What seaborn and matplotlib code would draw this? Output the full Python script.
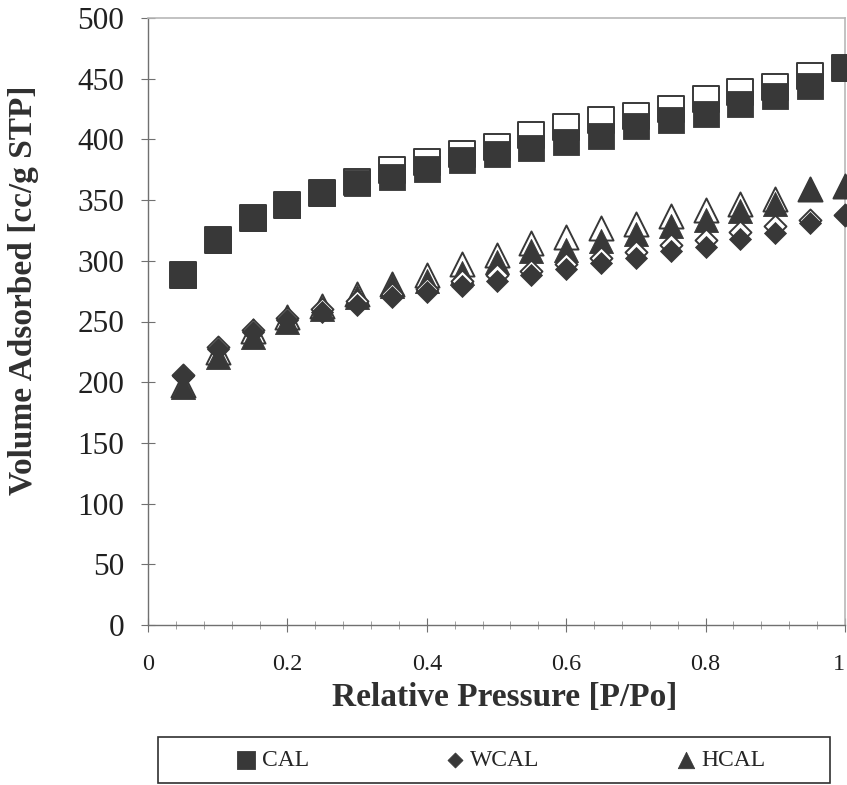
import matplotlib
matplotlib.use("Agg")
import matplotlib.pyplot as plt
import seaborn as sns
import pandas as pd
from matplotlib.ticker import MultipleLocator, FuncFormatter
from matplotlib.patches import Rectangle

# ---- data ----
rel_pressure = [0.05, 0.10, 0.15, 0.20, 0.25, 0.30, 0.35, 0.40, 0.45, 0.50,
                0.55, 0.60, 0.65, 0.70, 0.75, 0.80, 0.85, 0.90, 0.95, 1.00]
cal_ads = [288, 317, 335, 346, 356, 364, 369, 376, 383, 388,
           393, 398, 403, 411, 416, 421, 429, 436, 444, 459]
cal_des = [288, 317, 335, 346, 356, 365, 375, 381, 388, 394,
           404, 410, 416, 419, 425, 433, 439, 443, 452, 459]
wcal_ads = [205, 227, 241, 251, 258, 264, 270, 274, 279, 283,
            288, 293, 298, 302, 308, 311, 318, 323, 331, 338]
wcal_des = [206, 229, 243, 253, 260, 267, 273, 277, 283, 288,
            292, 297, 302, 307, 313, 317, 324, 329, 334, 338]
hcal_ads = [196, 221, 237, 250, 260, 270, 279, 283, 290, 299,
            308, 309, 316, 322, 329, 334, 341, 347, 359, 362]
hcal_des = [198, 225, 242, 254, 263, 273, 281, 288, 297, 305,
            315, 320, 327, 330, 337, 342, 347, 351, 359, 362]
xticks = [0, 0.2, 0.4, 0.6, 0.8, 1.0]
yticks = [0, 50, 100, 150, 200, 250, 300, 350, 400, 450, 500]

sns.set_theme(style="white")
plt.rcParams['font.family'] = ['Liberation Serif', 'DejaVu Serif']

DARK = "#383838"
fig = plt.figure(figsize=(8.47, 7.85), dpi=100)
ax = fig.add_axes([148/847, 1-625/785, (845-148)/847, (625-18)/785])

df = pd.DataFrame({"p": rel_pressure,
                   "cal_ads": cal_ads, "cal_des": cal_des,
                   "wcal_ads": wcal_ads, "wcal_des": wcal_des,
                   "hcal_ads": hcal_ads, "hcal_des": hcal_des})

# draw order: triangles, diamonds, squares (open first, filled on top)
series = [
    ("hcal_des", "^", 300, False, "_nolegend_"),
    ("hcal_ads", "^", 300, True, "HCAL"),
    ("wcal_des", "D", 125, False, "_nolegend_"),
    ("wcal_ads", "D", 125, True, "WCAL"),
    ("cal_des", "s", 350, False, "_nolegend_"),
    ("cal_ads", "s", 350, True, "CAL"),
]
for i, (col, mk, size, filled, lab) in enumerate(series):
    sns.scatterplot(data=df, x="p", y=col, ax=ax, marker=mk, s=size,
                    color=DARK if filled else "white",
                    edgecolor=DARK, linewidth=0.6 if filled else 1.4,
                    label=lab, legend=False, zorder=3 + i, clip_on=False)

ax.set_xlim(0, 1)
ax.set_ylim(0, 500)
ax.set_xticks(xticks)
ax.set_yticks(yticks)
ax.xaxis.set_minor_locator(MultipleLocator(0.04))
ax.xaxis.set_major_formatter(FuncFormatter(lambda v, p: f"{v:g}"))

for s in ["left", "bottom"]:
    ax.spines[s].set_color("#707070")
    ax.spines[s].set_linewidth(1.0)
for s in ["top", "right"]:
    ax.spines[s].set_color("#b8b8b8")
    ax.spines[s].set_linewidth(1.2)

ax.tick_params(axis="y", which="major", direction="inout", length=10, width=0.8,
               color="#707070", labelsize=22.5, pad=12, labelcolor="#202020",
               left=True)
ax.tick_params(axis="x", which="major", direction="inout", length=10, width=0.8,
               color="#707070", labelsize=17.5, pad=16, labelcolor="#202020",
               bottom=True)
ax.tick_params(axis="x", which="minor", direction="inout", length=6, width=0.6,
               color="#909090", bottom=True)

ax.set_xlabel("Relative Pressure [P/Po]", fontsize=24, fontweight="bold",
              color="#303030", va="center")
ax.set_ylabel("Volume Adsorbed [cc/g STP]", fontsize=24, fontweight="bold",
              color="#303030", va="center")
ax.xaxis.set_label_coords((505-148)/697, -(697-625)/607)
ax.yaxis.set_label_coords(-(148-24)/697, (625-290)/607)

# keep the last x tick label ("1") inside the figure edge
fig.canvas.draw()
ax.get_xticklabels()[-1].set_ha("right")

# legend
handles, labels = ax.get_legend_handles_labels()
order = [labels.index(n) for n in ["CAL", "WCAL", "HCAL"]]
handles = [handles[i] for i in order]
labels = [labels[i] for i in order]
fig.legend(handles, labels, loc="center", bbox_to_anchor=(500/847, 1-760/785),
           ncol=3, frameon=False, fontsize=17, markerscale=0.68,
           handlelength=1.0, handletextpad=0.15, columnspacing=5.7,
           scatterpoints=1)
fig.patches.append(Rectangle((158/847, 1-783/785), (830-158)/847, 46/785,
                             transform=fig.transFigure, fill=False,
                             edgecolor="#303030", linewidth=1.2))

fig.savefig("out.png", dpi=100)
